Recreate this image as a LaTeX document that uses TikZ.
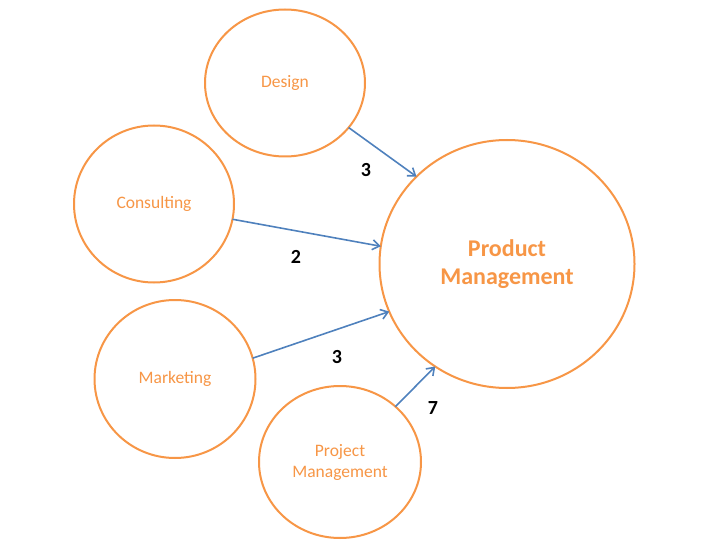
\documentclass[tikz,border=0pt]{standalone}
\usepackage{fontspec}
\setmainfont{Carlito}
\usetikzlibrary{shapes.geometric,arrows.meta}
\definecolor{orng}{HTML}{F79646}
\definecolor{blu}{HTML}{4F81BD}
\tikzset{
  bub/.style={ellipse, draw=orng, line width=2pt, fill=white, inner sep=0pt, outer sep=0pt,
    text=orng, font=\fontsize{17.5}{21}\selectfont, align=center},
  link/.style={draw=blu, line width=1.6pt, -{Straight Barb[length=7pt,width=10pt,line width=1.6pt]}},
  num/.style={font=\bfseries\fontsize{20}{24}\selectfont, text=black}
}
\begin{document}
\begin{tikzpicture}[x=1pt,y=-1pt]
\useasboundingbox (0,0) rectangle (720,540);
\node[bub, minimum width=160pt, minimum height=147pt] (des) at (285,83) {Design};
\node[bub, minimum width=160pt, minimum height=157pt] (con) at (154,204) {Consulting};
\node[bub, minimum width=161pt, minimum height=158pt] (mar) at (175,379) {Marketing};
\node[bub, minimum width=162pt, minimum height=152pt] (pjm) at (340,462) {Project\\Management};
\node[bub, minimum width=255pt, minimum height=248pt, font=\bfseries\fontsize{24}{28}\selectfont] (pdm) at (507,264) {Product\\Management};
\draw[link] (des.-35) -- (pdm.136.6);
\draw[link] (con.-11.6) -- (pdm.172);
\draw[link] (mar.15) -- (pdm.-158);
\draw[link] (pjm.45.5) -- (pdm.-125);
\node[num] (n1) at (366,170) {3};
\node[num] (n2) at (296,257) {2};
\node[num] (n3) at (337,357) {3};
\node[num] (n4) at (433,408) {7};
\end{tikzpicture}
\end{document}
